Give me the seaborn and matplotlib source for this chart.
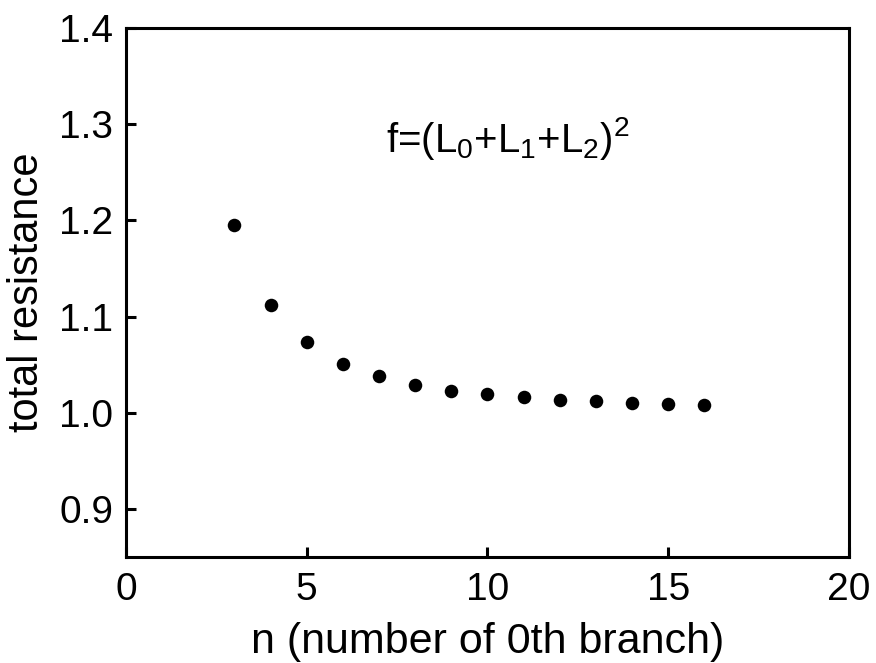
import matplotlib
matplotlib.use("Agg")
import matplotlib.pyplot as plt
import seaborn as sns
import pandas as pd

n_values = [3, 4, 5, 6, 7, 8, 9, 10, 11, 12, 13, 14, 15, 16]
resistance = [1.195, 1.112, 1.073, 1.051, 1.038, 1.029, 1.023, 1.019,
              1.016, 1.0135, 1.0117, 1.010, 1.0086, 1.008]
x_ticks = [0, 5, 10, 15, 20]
y_ticks = [0.9, 1.0, 1.1, 1.2, 1.3, 1.4]
x_label = "n (number of 0th branch)"
y_label = "total resistance"
annotation = "f=(L$_0$+L$_1$+L$_2$)$^2$"

sns.set_theme(style="white")
plt.rcParams['font.family'] = ['Liberation Sans', 'DejaVu Sans']
plt.rcParams['mathtext.default'] = 'regular'

df = pd.DataFrame({"n": n_values, "r": resistance})

fig = plt.figure(figsize=(8.76, 6.63), dpi=100)
ax = fig.add_axes([0.1438, 0.1599, 0.9692 - 0.1438, 0.9578 - 0.1599])
sns.scatterplot(data=df, x="n", y="r", ax=ax, color="black", s=95,
                linewidth=0, legend=False)

ax.set_xlim(0, 20)
ax.set_ylim(0.85, 1.4)
ax.set_xticks(x_ticks)
ax.set_yticks(y_ticks)
ax.set_xticklabels([str(v) for v in x_ticks])
ax.set_yticklabels([f"{v:.1f}" for v in y_ticks])
ax.tick_params(axis="both", direction="in", length=7, width=2.2,
               labelsize=28, colors="black", left=True, bottom=True,
               top=False, right=False)
ax.tick_params(axis="y", pad=9)
ax.tick_params(axis="x", pad=11)
for sp in ax.spines.values():
    sp.set_linewidth(2.2)
    sp.set_color("black")
    sp.set_visible(True)

ax.set_xlabel(x_label, fontsize=31, color="black", labelpad=10)
ax.set_ylabel(y_label, fontsize=30, color="black", labelpad=9)
ax.text(7.2, 1.2715, annotation, fontsize=29, color="black",
        ha="left", va="baseline")

fig.savefig("out.png", dpi=100)
